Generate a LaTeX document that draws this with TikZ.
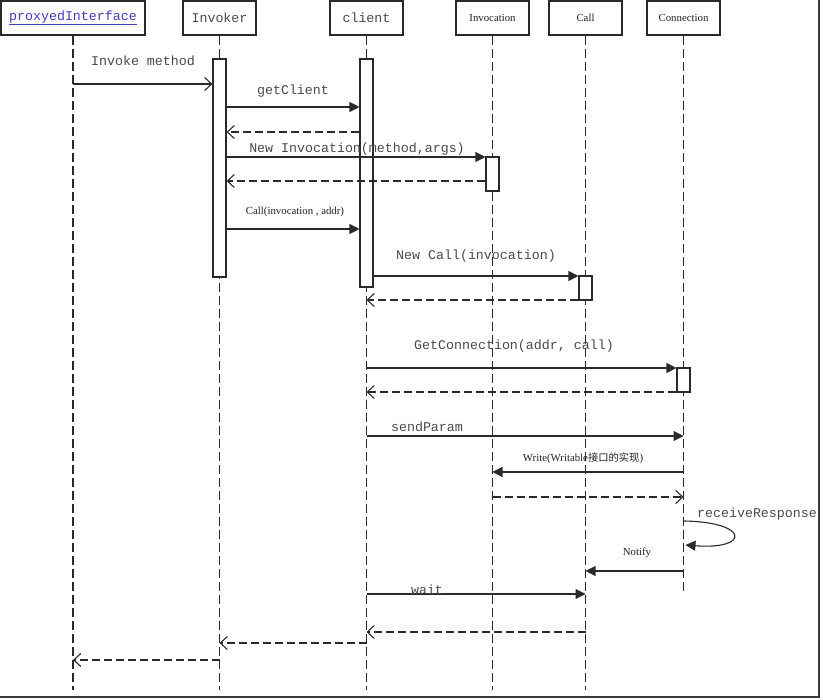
\documentclass[tikz,border=0pt]{standalone}
\usepackage{fontspec}
\setmainfont{Liberation Serif}
\setmonofont{Liberation Mono}
\newfontfamily\cjk{Noto Sans CJK SC}
\usetikzlibrary{arrows.meta}
\definecolor{linec}{HTML}{2A2A2A}
\definecolor{txt}{HTML}{4A4A4A}
\definecolor{txtd}{HTML}{222222}
\definecolor{link}{HTML}{4040C0}
\definecolor{frame}{HTML}{3A3A3A}
\tikzset{
  hdr/.style={draw=linec, line width=1.1pt, minimum height=34pt, minimum width=73pt, inner sep=0pt, fill=white},
  mono/.style={font=\fontsize{13.3}{15}\selectfont\ttfamily, text=txt, inner sep=0pt},
  serif/.style={font=\fontsize{10.8}{12}\selectfont, text=txtd, inner sep=0pt},
  life/.style={draw=linec, line width=1.1pt, dash pattern=on 9pt off 4pt},
  act/.style={draw=linec, fill=white, line width=1.1pt, minimum width=13pt, inner sep=0pt},
  callmsg/.style={draw=linec, line width=1.1pt, -{Triangle[length=10pt,width=10pt]}},
  opencall/.style={draw=linec, line width=1.1pt, -{Straight Barb[length=7pt,width=13pt]}},
  retmsg/.style={draw=linec, line width=1.1pt, dash pattern=on 8pt off 4pt, -{Straight Barb[length=7pt,width=13pt]}}
}
\begin{document}
\begin{tikzpicture}[x=1pt,y=-1pt]
\useasboundingbox (0,0) rectangle (823,700);
\fill[white] (0,0) rectangle (823,700);

% headers
\node[hdr, mono, minimum width=144pt] (hP) at (73,18) {\textcolor{link}{\underline{proxyedInterface}}};
\node[hdr, mono] (hI) at (219.5,18) {Invoker};
\node[hdr, mono] (hC) at (366.5,18) {client};
\node[hdr, serif] (hV) at (492.5,18) {Invocation};
\node[hdr, serif] (hK) at (585.5,18) {Call};
\node[hdr, serif] (hN) at (683.5,18) {Connection};

% lifeline ends
\coordinate (eP) at (hP |- 0,690);
\coordinate (eI) at (hI |- 0,690);
\coordinate (eC) at (hC |- 0,690);
\coordinate (eV) at (hV |- 0,690);
\coordinate (eK) at (hK |- 0,690);
\coordinate (eN) at (hN |- 0,592);
\draw[life] (hP.south) -- (eP);
\draw[life] (hI.south) -- (eI);
\draw[life] (hC.south) -- (eC);
\draw[life] (hV.south) -- (eV);
\draw[life] (hK.south) -- (eK);
\draw[life] (hN.south) -- (eN);

% activations
\node[act, minimum height=218pt] (aI) at (219.5,168) {};
\node[act, minimum height=228pt] (aC) at (366.5,173) {};
\node[act, minimum height=34pt] (aV) at (492.5,174) {};
\node[act, minimum height=24pt] (aK) at (585.5,288) {};
\node[act, minimum height=24pt] (aN) at (683.5,380) {};

% messages
\draw[opencall] (hP |- 0,84) -- (aI.west |- 0,84);
\node[mono] (l1) at (143,61) {Invoke method};

\draw[callmsg] (aI.east |- 0,107) -- (aC.west |- 0,107);
\node[mono] (l2) at (293,91) {getClient};

\draw[retmsg] (aC.west |- 0,132) -- (aI.east |- 0,132);

\draw[callmsg] (aI.east |- 0,157) -- (aV.west |- 0,157);
\node[mono] (l3) at (357,149) {New Invocation(method,args)};

\draw[retmsg] (aV.west |- 0,181) -- (aI.east |- 0,181);

\draw[callmsg] (aI.east |- 0,229) -- (aC.west |- 0,229);
\node[serif] (l4) at (295,212) {Call(invocation , addr)};

\draw[callmsg] (aC.east |- 0,276) -- (aK.west |- 0,276);
\node[mono] (l5) at (476,256) {New Call(invocation)};

\draw[retmsg] (aK.west |- 0,300) -- (hC |- 0,300);

\draw[callmsg] (hC |- 0,368) -- (aN.west |- 0,368);
\node[mono] (l6) at (514,346) {GetConnection(addr, call)};

\draw[retmsg] (aN.west |- 0,392) -- (hC |- 0,392);

\draw[callmsg] (hC |- 0,436) -- (hN |- 0,436);
\node[mono] (l7) at (427,427) {sendParam};

\draw[callmsg] (hN |- 0,472) -- (hV |- 0,472);
\node[serif] (l8) at (583,458) {Write(Writable{\cjk\fontsize{10.3}{12}\selectfont 接口的实现})};

\draw[retmsg] (hV |- 0,497) -- (hN |- 0,497);

\coordinate (r1) at (hN |- 0,521);
\coordinate (r2) at ([xshift=2pt]hN.center |- 0,545);
\draw[callmsg] (r1) .. controls (750,522) and (750,550) .. (r2);
\node[mono] (l9) at (757,514) {receiveResponse};

\draw[callmsg] (hN |- 0,571) -- (hK |- 0,571);
\node[serif] (l10) at (637,553) {Notify};

\draw[callmsg] (hC |- 0,594) -- (hK |- 0,594);
\node[mono] (l11) at (427,590) {wait};

\draw[retmsg] (hK |- 0,632) -- (hC |- 0,632);
\draw[retmsg] (hC |- 0,643) -- (hI |- 0,643);
\draw[retmsg] (hI |- 0,660) -- (hP |- 0,660);

% frame shadow
\draw[frame, line width=2.5pt] (819,0) -- (819,697) -- (0,697);
\end{tikzpicture}
\end{document}
